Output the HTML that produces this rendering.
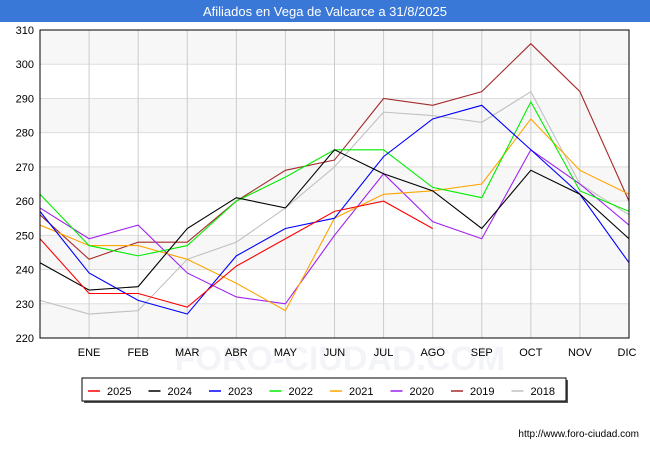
<!DOCTYPE html>
<html><head><meta charset="utf-8"><style>
body{margin:0;background:#fff;font-family:"Liberation Sans",sans-serif}
#wrap{position:relative;width:650px;height:450px;overflow:hidden}
</style></head><body>
<div id="wrap">
<svg id="chart" width="650" height="450"></svg>
</div>
<script>
const months=["","ENE","FEB","MAR","ABR","MAY","JUN","JUL","AGO","SEP","OCT","NOV","DIC"];
const yTicks=[220,230,240,250,260,270,280,290,300,310];
const years=["2025","2024","2023","2022","2021","2020","2019","2018"];
const colors=["#ff0000","#000000","#0000ff","#00ee00","#ffa500","#a020f0","#a52a2a","#c0c0c0"];
const s2025=[249,233,233,229,241,249,257,260,252];
const s2024=[242,234,235,252,261,258,275,268,263,252,269,262,249];
const s2023=[257,239,231,227,244,252,255,273,284,288,275,262,242];
const s2022=[262,247,244,247,260,267,275,275,264,261,289,263,257];
const s2021=[253,247,247,243,236,228,255,262,263,265,284,269,262];
const s2020=[258,249,253,239,232,230,250,268,254,249,275,265,253];
const s2019=[256,243,248,248,260,269,272,290,288,292,306,292,260];
const s2018=[231,227,228,243,248,258,270,286,285,283,292,265,256];
const series=[s2025,s2024,s2023,s2022,s2021,s2020,s2019,s2018];
const NS="http://www.w3.org/2000/svg";
const svg=document.getElementById('chart');
const L=40,R=629,T=30,B=338,ymin=220,ymax=310;
const x=i=>L+(R-L)*i/12;
const y=v=>B-(B-T)*(v-ymin)/(ymax-ymin);
function mk(t,a,p){const e=document.createElementNS(NS,t);for(const k in a)e.setAttribute(k,a[k]);(p||svg).appendChild(e);return e;}
let e;
e=mk('rect',{x:0,y:0,width:650,height:22,fill:'#3a78d8'});


e=mk('text',{x:325,y:16,'text-anchor':'middle','font-size':13,fill:'#fff'});e.textContent='Afiliados en Vega de Valcarce a 31/8/2025';


for(let i=0;i<yTicks.length-1;i++){
 if(i%2==0){e=mk('rect',{x:L,y:y(yTicks[i+1]),width:R-L,height:y(yTicks[i])-y(yTicks[i+1]),fill:'#f7f7f7'});
 
 }
}
e=mk('text',{x:340,y:370,'text-anchor':'middle','font-size':34,fill:'#f3f4f8','font-weight':'bold'});e.textContent='FORO-CIUDAD.COM';


yTicks.forEach(v=>{
 e=mk('line',{x1:L,x2:R,y1:y(v),y2:y(v),stroke:'#ddd'});
 
 
 e=mk('text',{x:L-6,y:y(v)+4,'text-anchor':'end','font-size':11,fill:'#000'});e.textContent=v;
 
 
});
months.forEach((m,i)=>{
 if(i>0){e=mk('line',{x1:x(i),x2:x(i),y1:T,y2:B,stroke:'#ccc'});
 
 }
 e=mk('text',{x:x(i)-(i==12?2:0),y:356,'text-anchor':'middle','font-size':11,fill:'#000'});e.textContent=m;
 
 
});
for(let k=series.length-1;k>=0;k--){
 const pts=series[k].map((v,i)=>x(i)+','+y(v)).join(' ');
 e=mk('polyline',{points:pts,fill:'none',stroke:colors[k],'stroke-width':1.1});
 
 
}
e=mk('path',{d:`M${L} ${T} V${B} H${R} V${T} Z`,fill:'none',stroke:'#000','stroke-width':1});


e=mk('rect',{x:84,y:380,width:484,height:23,fill:'#555'});


e=mk('rect',{x:82,y:378,width:484,height:23,fill:'#fff',stroke:'#000'});


years.forEach((yr,k)=>{
 const lx=88+k*60.5;
 e=mk('line',{x1:lx,x2:lx+12,y1:391,y2:391,stroke:colors[k],'stroke-width':1.5});
 
 
 e=mk('text',{x:lx+19,y:395,'font-size':11,fill:'#000'});e.textContent=yr;
 
 
});
e=mk('text',{x:639,y:437,'text-anchor':'end','font-size':10,fill:'#000'});e.textContent='http://www.foro-ciudad.com';


</script>
</body></html>
